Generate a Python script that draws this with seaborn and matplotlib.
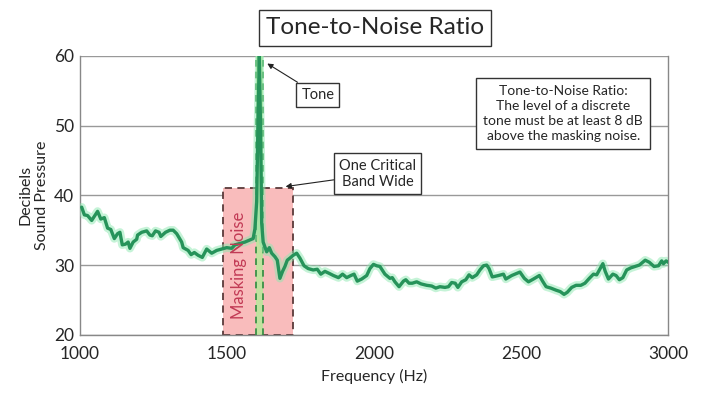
import numpy as np
import pandas as pd
import matplotlib.pyplot as plt
import seaborn as sns
from matplotlib.patches import Rectangle

# спектр (частота, Гц / уровень, дБ)
freq = [1006, 1015, 1026, 1040, 1060, 1071, 1083, 1094, 1105, 1117, 1128, 1136,
        1144, 1155, 1164, 1170, 1181, 1193, 1196, 1210, 1227, 1238, 1246, 1257,
        1269, 1275, 1291, 1306, 1317, 1329, 1346, 1351, 1368, 1378, 1389, 1402,
        1416, 1431, 1448, 1465, 1482, 1499, 1516, 1527, 1544, 1561, 1578, 1589,
        1595, 1601, 1606, 1610, 1614, 1618, 1623, 1635, 1644, 1652, 1663, 1671,
        1680, 1689, 1697, 1705, 1714, 1725, 1737, 1748, 1762, 1776, 1793, 1807,
        1819, 1833, 1848, 1862, 1879, 1893, 1907, 1921, 1932, 1943, 1958, 1975,
        1986, 1998, 2009, 2020, 2037, 2054, 2062, 2071, 2085, 2100, 2108, 2119,
        2130, 2145, 2160, 2179, 2196, 2210, 2224, 2241, 2253, 2264, 2276, 2285,
        2298, 2312, 2323, 2334, 2349, 2360, 2372, 2383, 2391, 2402, 2423, 2440,
        2448, 2468, 2485, 2496, 2511, 2525, 2542, 2562, 2573, 2585, 2601, 2619,
        2633, 2646, 2657, 2672, 2687, 2703, 2717, 2732, 2746, 2757, 2766, 2778,
        2786, 2797, 2812, 2823, 2834, 2846, 2859, 2873, 2888, 2902, 2922, 2936,
        2952, 2967, 2978, 2984, 2993, 3000]
level = [38.3, 37.2, 37.1, 36.4, 37.7, 36.6, 36.8, 35.3, 35.1, 33.8, 34.5, 34.7,
         32.9, 33.0, 33.3, 32.4, 33.3, 33.7, 34.3, 34.7, 34.9, 34.3, 34.2, 34.9,
         34.7, 34.1, 34.7, 35.0, 35.0, 34.5, 33.3, 32.5, 32.1, 31.5, 31.8, 31.4,
         31.1, 32.3, 31.7, 32.1, 32.3, 32.5, 32.4, 32.9, 33.1, 33.3, 33.6, 33.8,
         35.2, 39.1, 52.0, 60.0, 50.0, 36.0, 33.3, 31.9, 32.5, 31.7, 31.2, 30.7,
         28.1, 29.1, 29.8, 30.7, 31.0, 31.4, 31.7, 31.0, 29.9, 29.5, 29.3, 29.4,
         28.7, 29.1, 28.8, 28.5, 28.2, 28.7, 28.2, 28.5, 28.7, 27.7, 28.0, 28.5,
         29.5, 30.1, 29.9, 29.8, 28.7, 28.1, 28.2, 27.6, 26.9, 27.7, 27.9, 27.4,
         27.4, 27.6, 27.3, 27.1, 27.0, 26.7, 26.9, 26.8, 26.9, 27.5, 27.4, 26.8,
         27.6, 27.9, 28.6, 28.2, 28.6, 29.3, 29.9, 30.0, 29.5, 28.3, 28.5, 28.7,
         28.0, 28.5, 28.8, 29.0, 28.1, 27.6, 28.0, 28.5, 27.7, 26.9, 26.7, 26.4,
         26.2, 25.8, 26.1, 26.8, 27.1, 27.1, 27.4, 28.1, 28.7, 28.6, 29.3, 30.2,
         29.1, 28.0, 28.7, 28.5, 27.9, 28.2, 29.3, 29.6, 29.8, 30.0, 30.7, 30.4,
         29.8, 29.9, 30.6, 30.2, 30.6, 30.4]

x_ticks = [1000, 1500, 2000, 2500, 3000]
y_ticks = [20, 30, 40, 50, 60]

band = [1486, 1724]      # критическая полоса
band_top = 41
tone = [1599, 1621]      # полоса тона

df = pd.DataFrame({"Frequency": freq, "Level": level})

sns.set_style("white")
plt.rcParams['font.family'] = ['Lato', 'DejaVu Sans']

fig = plt.figure(figsize=(7.2, 3.93), dpi=100)
ax = fig.add_axes([0.111, 0.148, 0.817, 0.71])

# маскирующий шум
ax.add_patch(Rectangle((band[0], 20), band[1] - band[0], band_top - 20,
                       facecolor='#f9bcbc', edgecolor='#5a3a3a', ls=(0, (4, 3)),
                       lw=1.3, zorder=1))
ax.axvspan(tone[0], tone[1], color='#b8e89a', alpha=0.85, zorder=2, lw=0)
for t in tone:
    ax.axvline(t, color='#2e8b3e', ls=(0, (4, 3)), lw=1.2, zorder=3)

# линия со "свечением"
sns.lineplot(data=df, x="Frequency", y="Level", ax=ax, color='#8de8b0',
             lw=6, alpha=0.5, zorder=4)
sns.lineplot(data=df, x="Frequency", y="Level", ax=ax, color='#26935a',
             lw=2.4, zorder=5)

ax.set_xlim(1000, 3000)
ax.set_ylim(20, 60)
ax.set_xticks(x_ticks)
ax.set_yticks(y_ticks)
ax.tick_params(axis='x', direction='in', length=6, color='#666', labelsize=12.5, pad=8)
ax.tick_params(axis='y', length=0, labelsize=12.5, pad=4)
ax.yaxis.grid(True, color='#999', lw=1)
ax.set_axisbelow(True)
for s in ax.spines.values():
    s.set_color('#888')
    s.set_linewidth(1)
ax.spines['top'].set_visible(False)

ax.set_xlabel("Frequency (Hz)", fontsize=11.5, labelpad=5)
ax.set_ylabel("Decibels\nSound Pressure", fontsize=11.5, labelpad=4)

ax.text(1541, 30, "Masking Noise", rotation=90, color='#c23a55', fontsize=12,
        ha='center', va='center', zorder=6)

box = dict(boxstyle='square,pad=0.35', fc='white', ec='#333', lw=1)
ax.annotate("Tone", xy=(1629, 59.1), xytext=(1809, 54.4), fontsize=10.5,
            ha='center', va='center', bbox=box,
            arrowprops=dict(arrowstyle='-|>', color='#222', lw=0.8,
                            mutation_scale=8, shrinkA=0))
ax.annotate("One Critical\nBand Wide", xy=(1690, 41.2), xytext=(2013, 43.1),
            fontsize=10.5, ha='center', va='center', bbox=box,
            arrowprops=dict(arrowstyle='-|>', color='#222', lw=0.8,
                            mutation_scale=8, shrinkA=0))
ax.text(2643, 51.7, "Tone-to-Noise Ratio:\nThe level of a discrete\n"
        "tone must be at least 8 dB\nabove the masking noise.",
        fontsize=10, ha='center', va='center', linespacing=1.3,
        bbox=dict(boxstyle='square,pad=0.5', fc='white', ec='#333', lw=1))

fig.text(0.521, 0.929, "Tone-to-Noise Ratio", fontsize=17.5, ha='center',
         va='center', bbox=dict(boxstyle='square,pad=0.3', fc='white',
                                ec='#333', lw=1))

fig.savefig("out.png", dpi=100)
